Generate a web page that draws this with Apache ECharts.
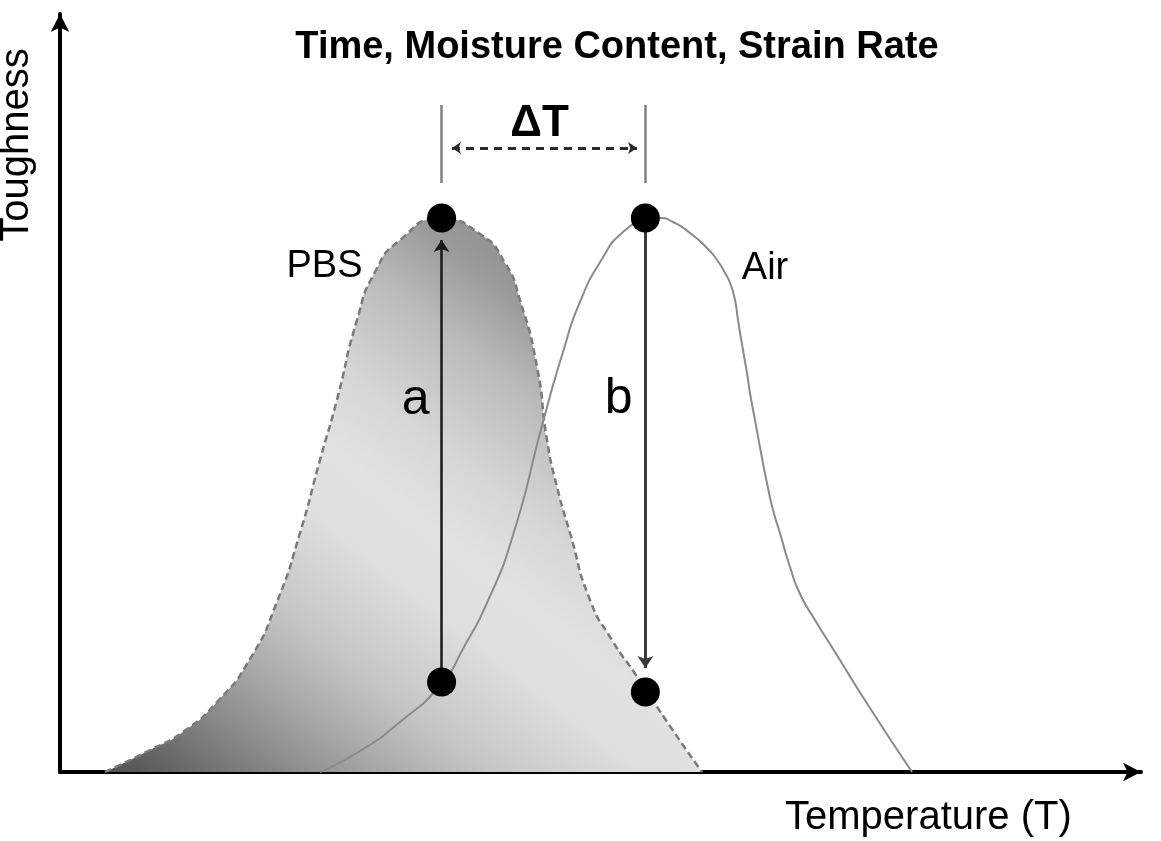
<!DOCTYPE html>
<html>
<head>
<meta charset="utf-8">
<script src="https://cdn.jsdelivr.net/npm/echarts@6/dist/echarts.min.js"></script>
<style>
  html, body { margin: 0; padding: 0; background: #ffffff; }
  #chart { width: 1161px; height: 841px; }
</style>
</head>
<body>
<div id="chart"></div>
<script>
// ---- Data (arbitrary units: Temperature 0-100, Toughness 0-100) ----
const titleText = 'Time, Moisture Content, Strain Rate';
const xAxisLabel = 'Temperature (T)';
const yAxisLabel = 'Toughness';

// PBS curve (dashed, shaded)
const pbsT = [4.16, 8.33, 11.38, 14.52, 17.58, 20.07, 22.20, 24.05, 25.62, 27.47, 29.14, 31.45, 35.15, 38.85, 41.17, 42.55, 44.13, 45.05, 45.98, 47.18, 49.03, 51.06, 53.28, 56.61, 59.39];
const pbsTough = [0, 2.90, 5.28, 9.23, 14.91, 22.43, 31.53, 41.16, 49.08, 59.63, 65.96, 70.18, 72.96, 70.98, 67.15, 62.27, 53.43, 43.80, 37.60, 31.53, 22.69, 17.41, 12.80, 5.67, 0];

// Air curve (solid)
const airT = [24.05, 27.75, 31.45, 35.25, 37.47, 39.50, 41.91, 44.68, 46.53, 48.10, 50.14, 51.99, 54.21, 55.50, 56.71, 58.28, 59.85, 60.78, 61.52, 61.98, 62.44, 62.72, 63.18, 63.55, 63.83, 64.29, 64.75, 65.40, 65.96, 66.60, 67.53, 68.46, 69.84, 71.69, 74.75, 78.82];
const airTough = [0, 2.77, 6.60, 11.61, 16.75, 22.30, 31.27, 46.17, 55.41, 62.01, 67.68, 71.11, 72.82, 73.09, 72.56, 71.11, 69.13, 67.55, 65.83, 64.51, 62.27, 59.63, 55.67, 52.64, 50.00, 46.44, 42.88, 38.13, 34.56, 31.53, 27.04, 23.48, 20.05, 15.83, 8.84, 0];

// Highlighted points: [T, toughness]
const keyPointsT = [35.30, 54.15, 35.30, 54.15];
const keyPointsTough = [73.09, 73.09, 11.87, 10.55];

// Arrow a (up) and arrow b (down): [T, fromTough, toTough]
const arrowA = [35.30, 11.87, 70.18];
const arrowB = [54.15, 73.09, 13.72];

// Delta T bracket
const deltaTicksT = [35.30, 54.15];
const deltaTickRange = [77.70, 88.0];
const deltaArrow = [82.32, 36.26, 53.38]; // level, from, to

// Text annotations: [T, toughness]
const annoNames = ['PBS', 'Air', 'a', 'b', 'ΔT'];
const annoT = [24.47, 65.22, 32.89, 51.67, 44.36];
const annoTough = [66.69, 66.42, 49.08, 49.21, 85.49];

// ---- Build ----
const zip = (a, b) => a.map((v, i) => [v, b[i]]);
const FONT = '"Liberation Sans", Arial, Helvetica, sans-serif';

const annoStyle = {
  'PBS': { fontSize: 38, fontWeight: 'normal' },
  'Air': { fontSize: 38, fontWeight: 'normal' },
  'a':   { fontSize: 50, fontWeight: 'normal' },
  'b':   { fontSize: 50, fontWeight: 'normal' },
  'ΔT':  { fontSize: 44, fontWeight: 'bold' }
};

const chart = echarts.init(document.getElementById('chart'), null, { renderer: 'canvas' });

const option = {
  animation: false,
  backgroundColor: '#ffffff',
  title: {
    text: titleText,
    left: 612,
    top: 43,
    textAlign: 'center',
    textVerticalAlign: 'middle',
    textStyle: { fontFamily: FONT, fontSize: 38, fontWeight: 'bold', color: '#000' }
  },
  grid: { left: 60, right: 20, top: 14, bottom: 69, containLabel: false },
  xAxis: {
    type: 'value', min: 0, max: 100,
    axisLine: { show: true, onZero: false, symbol: ['none', 'arrow'], symbolSize: [14, 18], lineStyle: { color: '#000', width: 4 } },
    axisTick: { show: false }, axisLabel: { show: false }, splitLine: { show: false }
  },
  yAxis: {
    type: 'value', min: 0, max: 100,
    axisLine: { show: true, onZero: false, symbol: ['none', 'arrow'], symbolSize: [14, 18], lineStyle: { color: '#000', width: 4 } },
    axisTick: { show: false }, axisLabel: { show: false }, splitLine: { show: false }
  },
  graphic: [
    {
      type: 'text', x: 785, y: 818,
      style: { text: xAxisLabel, font: '40px ' + FONT, fill: '#000', textAlign: 'left', textVerticalAlign: 'middle' }
    },
    {
      type: 'text', x: 17, y: 145, rotation: Math.PI / 2,
      style: { text: yAxisLabel, font: '40px ' + FONT, fill: '#000', textAlign: 'center', textVerticalAlign: 'middle' }
    }
  ],
  series: [
    {
      name: 'PBS', type: 'line', data: zip(pbsT, pbsTough), smooth: 0.6, showSymbol: false, symbol: 'none',
      lineStyle: { color: '#7a7a7a', width: 2.5, type: [7, 4] },
      areaStyle: {
        opacity: 1,
        color: {
          type: 'linear', x: 0, y: 1, x2: 0.729, y2: 0,
          colorStops: [
            { offset: 0, color: '#505050' },
            { offset: 0.05, color: '#606060' },
            { offset: 0.16, color: '#8a8a8a' },
            { offset: 0.25, color: '#aaaaaa' },
            { offset: 0.34, color: '#c6c6c6' },
            { offset: 0.47, color: '#dedede' },
            { offset: 0.56, color: '#e2e2e2' },
            { offset: 0.66, color: '#d6d6d6' },
            { offset: 0.79, color: '#bbbbbb' },
            { offset: 0.89, color: '#9a9a9a' },
            { offset: 1, color: '#8a8a8a' }
          ]
        }
      },
      z: 1, silent: true
    },
    {
      name: 'Air', type: 'line', data: zip(airT, airTough), smooth: 0.6, showSymbol: false, symbol: 'none',
      lineStyle: { color: '#8a8a8a', width: 2 },
      z: 2, silent: true
    },
    {
      name: 'annotations', type: 'line', data: [], z: 3, silent: true,
      markLine: {
        silent: true, animation: false, label: { show: false }, emphasis: { disabled: true },
        symbolSize: 12,
        data: [
          [
            { coord: [arrowA[0], arrowA[1]], symbol: 'none', lineStyle: { color: '#1a1a1a', width: 2.5, type: 'solid' } },
            { coord: [arrowA[0], arrowA[2]], symbol: 'arrow', symbolSize: 12 }
          ],
          [
            { coord: [arrowB[0], arrowB[1]], symbol: 'none', lineStyle: { color: '#3a3a3a', width: 3, type: 'solid' } },
            { coord: [arrowB[0], arrowB[2]], symbol: 'arrow', symbolSize: 12 }
          ],
          [
            { coord: [deltaTicksT[0], deltaTickRange[0]], symbol: 'none', lineStyle: { color: '#808080', width: 2.5, type: 'solid' } },
            { coord: [deltaTicksT[0], deltaTickRange[1]], symbol: 'none' }
          ],
          [
            { coord: [deltaTicksT[1], deltaTickRange[0]], symbol: 'none', lineStyle: { color: '#808080', width: 2.5, type: 'solid' } },
            { coord: [deltaTicksT[1], deltaTickRange[1]], symbol: 'none' }
          ],
          [
            { coord: [deltaArrow[1], deltaArrow[0]], symbol: 'arrow', symbolSize: 9, lineStyle: { color: '#2a2a2a', width: 3, type: [8, 6] } },
            { coord: [deltaArrow[2], deltaArrow[0]], symbol: 'arrow', symbolSize: 9 }
          ]
        ]
      }
    },
    {
      name: 'points', type: 'scatter', data: zip(keyPointsT, keyPointsTough),
      symbol: 'circle', symbolSize: 29, itemStyle: { color: '#000', opacity: 1 }, z: 5, silent: true
    },
    {
      name: 'labels', type: 'scatter', symbolSize: 0, z: 6, silent: true,
      itemStyle: { opacity: 1 },
      data: annoNames.map((n, i) => ({
        value: [annoT[i], annoTough[i]],
        label: {
          show: true, position: 'inside', formatter: n, color: '#000', opacity: 1,
          fontFamily: FONT, fontSize: annoStyle[n].fontSize, fontWeight: annoStyle[n].fontWeight
        }
      }))
    }
  ]
};

chart.setOption(option);
</script>
</body>
</html>
